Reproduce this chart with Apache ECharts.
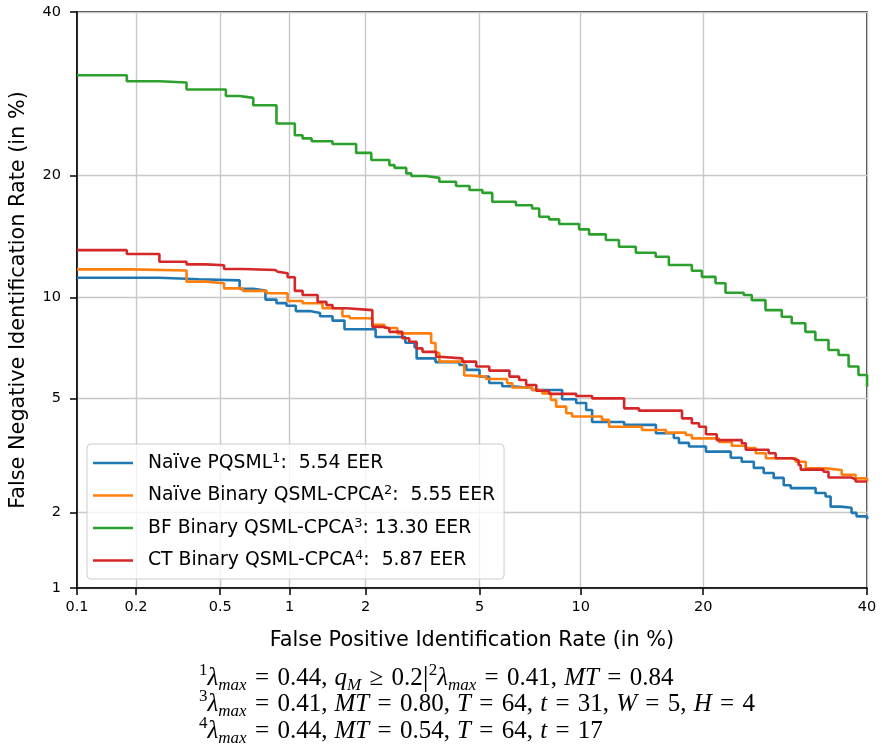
<!DOCTYPE html>
<html><head><meta charset="utf-8">
<script src="https://cdn.jsdelivr.net/npm/echarts@6/dist/echarts.min.js"></script>
<style>html,body{margin:0;padding:0;background:#fff}#c{width:882px;height:752px}</style>
</head><body><div id="c"></div>
<script>
// ---- data (percent) ----
const xTickValues = [0.1, 0.2, 0.5, 1, 2, 5, 10, 20, 40];
const xTickLabels = ['0.1', '0.2', '0.5', '1', '2', '5', '10', '20', '40'];
const yTickValues = [1, 2, 5, 10, 20, 40];
const yTickLabels = ['1', '2', '5', '10', '20', '40'];
const seriesNames = ['Naïve PQSML', 'Naïve Binary QSML-CPCA', 'BF Binary QSML-CPCA', 'CT Binary QSML-CPCA'];
const seriesSups = ['1', '2', '3', '4'];
const seriesEER = ['  5.54 EER', '  5.55 EER', ' 13.30 EER', '  5.87 EER'];

const naivePQSML = [[0.1,11.32],[0.26,11.21],[0.40,11.14],[0.61,10.57],[0.70,10.46],[0.79,9.88],[0.88,9.66],[0.97,9.50],[1.06,9.18],[1.21,9.07],[1.33,8.88],[1.49,8.63],[1.66,8.15],[2.18,7.74],[2.80,7.44],[3.02,7.21],[3.07,6.68],[3.57,6.51],[4.30,6.38],[4.53,6.16],[5.0,5.87],[5.37,5.61],[5.9,5.48],[6.34,5.41],[7.27,5.33],[8.88,4.98],[9.72,4.84],[10.35,4.59],[10.74,4.19],[13.02,4.10],[15.59,3.84],[17.18,3.70],[17.65,3.56],[18.6,3.46],[20.28,3.32],[22.89,3.16],[24.1,3.06],[25.47,2.91],[26.62,2.79],[27.81,2.68],[29.03,2.52],[29.9,2.46],[33.07,2.36],[34.38,2.29],[35.05,2.10],[36.39,2.08],[37.87,1.99],[38.55,1.93],[40,1.88]];
const naiveBinary = [[0.1,11.91],[0.19,11.83],[0.35,11.05],[0.43,10.94],[0.52,10.60],[0.63,10.44],[0.80,10.28],[0.98,9.79],[1.13,9.65],[1.36,9.35],[1.63,8.88],[1.74,8.76],[2.12,8.39],[2.35,8.22],[2.62,7.93],[3.45,7.43],[3.57,6.94],[3.68,6.53],[4.46,5.92],[4.64,5.87],[5.25,5.77],[6.11,5.60],[6.34,5.43],[7.27,5.33],[7.79,5.20],[8.25,4.95],[8.54,4.71],[9.12,4.48],[9.47,4.37],[11.41,4.26],[11.91,4.04],[14.43,3.94],[16.47,3.86],[18.30,3.79],[18.88,3.69],[21.61,3.59],[23.0,3.48],[24.55,3.42],[25.69,3.28],[26.87,3.15],[30.52,3.06],[31.8,2.90],[34.38,2.86],[36.53,2.75],[38.42,2.67],[40,2.60]];
const bfBinary = [[0.1,31.53],[0.18,30.77],[0.26,30.60],[0.35,29.72],[0.53,28.93],[0.61,28.69],[0.70,27.80],[0.88,25.64],[1.05,24.29],[1.13,23.94],[1.23,23.63],[1.49,23.31],[1.84,22.35],[2.10,21.59],[2.45,21.06],[2.56,20.77],[2.82,20.21],[2.94,19.94],[3.31,19.76],[3.68,19.37],[4.19,18.95],[4.64,18.56],[5.11,18.29],[5.49,17.46],[6.50,17.14],[7.27,16.84],[7.63,16.10],[8.15,15.87],[8.71,15.47],[9.90,15.02],[10.54,14.60],[11.68,14.14],[12.63,13.60],[13.93,13.14],[15.57,12.84],[16.73,12.22],[18.88,11.81],[19.87,11.38],[21.26,10.94],[22.32,10.32],[24.32,10.17],[25.23,9.85],[26.83,9.24],[28.79,8.85],[30.02,8.48],[31.75,8.01],[33.04,7.58],[34.77,7.08],[36.11,6.84],[37.47,6.31],[38.82,5.94],[40,5.46]];
const ctBinary = [[0.1,13.34],[0.18,13.04],[0.26,12.46],[0.35,12.27],[0.43,12.20],[0.52,11.93],[0.63,11.86],[0.87,11.74],[0.89,11.63],[0.98,11.35],[1.05,10.44],[1.13,10.17],[1.30,9.74],[1.41,9.54],[1.49,9.35],[1.69,9.24],[2.12,8.28],[2.31,8.20],[2.45,8.01],[2.73,7.67],[2.89,7.49],[3.07,7.16],[3.22,6.99],[3.59,6.76],[3.68,6.68],[4.40,6.53],[4.88,6.31],[5.37,6.13],[6.21,5.87],[6.65,5.73],[6.98,5.53],[7.48,5.30],[8.15,5.18],[9.72,5.10],[10.74,5.01],[13.02,4.65],[14.18,4.57],[17.94,4.31],[18.88,4.15],[19.58,4.04],[20.28,3.81],[21.39,3.64],[24.1,3.55],[24.55,3.37],[27.21,3.28],[28.05,3.15],[30.02,3.10],[30.89,2.98],[31.16,2.87],[34.11,2.82],[34.77,2.69],[37.87,2.65],[38.42,2.60],[40,2.60]];
const seriesData = [naivePQSML, naiveBinary, bfBinary, ctBinary];
const seriesColors = ['#1f77b4', '#ff7f0e', '#2ca02c', '#d62728'];

// ---- normal-deviate (DET) scale ----
function probit(p) {
  const a=[-3.969683028665376e+01,2.209460984245205e+02,-2.759285104469687e+02,1.383577518672690e+02,-3.066479806614716e+01,2.506628277459239e+00];
  const b=[-5.447609879822406e+01,1.615858368580409e+02,-1.556989798598866e+02,6.680131188771972e+01,-1.328068155288572e+01];
  const c=[-7.784894002430293e-03,-3.223964580411365e-01,-2.400758277161838e+00,-2.549732539343734e+00,4.374664141464968e+00,2.938163982698783e+00];
  const d=[7.784695709041462e-03,3.224671290700398e-01,2.445134137142996e+00,3.754408661907416e+00];
  const pl=0.02425, ph=1-pl; let q, r;
  if (p < pl) { q=Math.sqrt(-2*Math.log(p)); return (((((c[0]*q+c[1])*q+c[2])*q+c[3])*q+c[4])*q+c[5])/((((d[0]*q+d[1])*q+d[2])*q+d[3])*q+1); }
  if (p <= ph) { q=p-0.5; r=q*q; return (((((a[0]*r+a[1])*r+a[2])*r+a[3])*r+a[4])*r+a[5])*q/(((((b[0]*r+b[1])*r+b[2])*r+b[3])*r+b[4])*r+1); }
  q=Math.sqrt(-2*Math.log(1-p)); return -(((((c[0]*q+c[1])*q+c[2])*q+c[3])*q+c[4])*q+c[5])/((((d[0]*q+d[1])*q+d[2])*q+d[3])*q+1);
}
const pz = v => probit(v / 100);
const xTickZ = xTickValues.map(pz);
const yTickZ = yTickValues.map(pz);
function labelFor(zs, labels) {
  return function (v) {
    for (let i = 0; i < zs.length; i++) if (Math.abs(zs[i] - v) < 1e-6) return labels[i];
    return '';
  };
}

const FONT = 'DejaVu Sans';
const SERIF = 'Liberation Serif';
const chart = echarts.init(document.getElementById('c'), null, { renderer: 'canvas' });

const series = seriesData.map((d, i) => ({
  name: seriesNames[i],
  type: 'line',
  step: 'end',
  showSymbol: false,
  symbol: 'none',
  data: d.map(p => [pz(p[0]), pz(p[1])]),
  lineStyle: { color: seriesColors[i], width: 2.6 },
  itemStyle: { color: seriesColors[i] },
  emphasis: { disabled: true },
  animation: false,
  z: 3 + i
}));

const axisCommon = {
  type: 'value',
  axisLine: { show: true, onZero: false, lineStyle: { color: '#000', width: 1.5 } },
  splitLine: { show: true, lineStyle: { color: '#c8c8c8', width: 1.4 } },
  nameLocation: 'middle',
  nameTextStyle: { fontFamily: FONT, fontSize: 20.8, color: '#000' }
};

const legendData = seriesNames.map(n => ({ name: n }));

const subSup = {
  n: { fontFamily: SERIF, fontSize: 25, fill: '#000', lineHeight: 32, verticalAlign: 'middle' },
  i: { fontFamily: SERIF, fontSize: 25, fontStyle: 'italic', fill: '#000', lineHeight: 32, verticalAlign: 'middle' },
  sup: { fontFamily: SERIF, fontSize: 17, fill: '#000', lineHeight: 12, verticalAlign: 'top' },
  sub: { fontFamily: SERIF, fontSize: 17, fontStyle: 'italic', fill: '#000', lineHeight: 17, verticalAlign: 'bottom' },
  bar: { fontFamily: SERIF, fontSize: 29, fill: '#000', lineHeight: 32, verticalAlign: 'middle' }
};
const S = ' \u200A';
const T = '\u2009\u200A';
const footLines = [
  '{sup|1}{i|λ}{sub|max}{n|' + S + '=' + S + '0.44,' + T + '}{i|q}{sub|M}{n|' + S + '≥' + S + '0.2}{bar||}{sup|2}{i|λ}{sub|max}{n|' + S + '=' + S + '0.41,' + T + '}{i|MT}{n|' + S + '=' + S + '0.84}',
  '{sup|3}{i|λ}{sub|max}{n|' + S + '=' + S + '0.41,' + T + '}{i|MT}{n|' + S + '=' + S + '0.80,' + T + '}{i|T}{n|' + S + '=' + S + '64,' + T + '}{i|t}{n|' + S + '=' + S + '31,' + T + '}{i|W}{n|' + S + '=' + S + '5,' + T + '}{i|H}{n|' + S + '=' + S + '4}',
  '{sup|4}{i|λ}{sub|max}{n|' + S + '=' + S + '0.44,' + T + '}{i|MT}{n|' + S + '=' + S + '0.54,' + T + '}{i|T}{n|' + S + '=' + S + '64,' + T + '}{i|t}{n|' + S + '=' + S + '17}'
];

chart.setOption({
  animation: false,
  backgroundColor: '#fff',
  grid: { left: 77, right: 15, top: 12, bottom: 164, containLabel: false, outerBoundsMode: 'none',
          show: true, borderColor: '#000', borderWidth: 1.5, backgroundColor: 'transparent' },
  xAxis: Object.assign({}, axisCommon, {
    min: pz(0.1), max: pz(40),
    name: 'False Positive Identification Rate (in %)', nameGap: 42,
    axisTick: { show: true, length: 7, inside: false, lineStyle: { color: '#000', width: 1.5 }, customValues: xTickZ },
    axisLabel: { customValues: xTickZ, formatter: labelFor(xTickZ, xTickLabels), fontFamily: FONT, fontSize: 14.5, color: '#000', margin: 12, showMinLabel: true, showMaxLabel: true }
  }),
  yAxis: Object.assign({}, axisCommon, {
    min: pz(1), max: pz(40),
    name: 'False Negative Identification Rate (in %)', nameGap: 48, nameRotate: 90,
    axisTick: { show: true, length: 7, inside: false, lineStyle: { color: '#000', width: 1.5 }, customValues: yTickZ },
    axisLabel: { customValues: yTickZ, formatter: labelFor(yTickZ, yTickLabels), fontFamily: FONT, fontSize: 14.5, color: '#000', margin: 16, showMinLabel: true, showMaxLabel: true }
  }),
  legend: {
    data: legendData,
    orient: 'vertical',
    left: 87, top: 444,
    padding: [8, 9, 9, 6],
    itemGap: 12,
    itemWidth: 40, itemHeight: 2.6,
    icon: 'rect',
    selectedMode: false,
    backgroundColor: 'rgba(255,255,255,0.8)',
    borderColor: '#cccccc', borderWidth: 1, borderRadius: 4,
    formatter: function (name) {
      const i = seriesNames.indexOf(name);
      return '{a|' + name + '}{s|' + seriesSups[i] + '}{a|:' + seriesEER[i] + '}';
    },
    textStyle: {
      padding: [0, 0, 0, 10],
      rich: {
        a: { fontFamily: FONT, fontSize: 18.8, color: '#000', lineHeight: 22, verticalAlign: 'middle' },
        s: { fontFamily: FONT, fontSize: 13, color: '#000', lineHeight: 12, verticalAlign: 'top' }
      }
    }
  },
  graphic: footLines.map((t, k) => ({
    type: 'text', left: 199, top: 662 + k * 26.5, silent: true,
    style: { text: t, rich: subSup, fill: '#000' }
  })),
  series: series
});
</script></body></html>
